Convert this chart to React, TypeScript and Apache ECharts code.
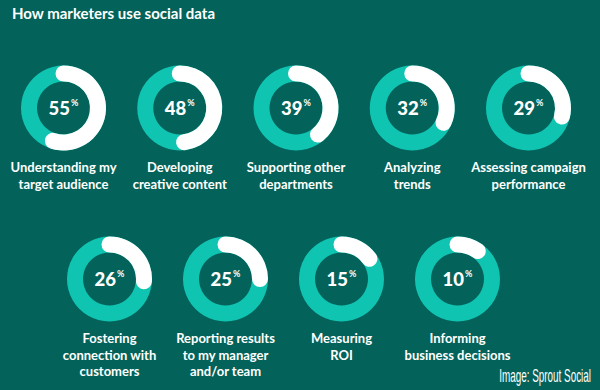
import React, { useEffect, useRef } from "react";
import * as echarts from "echarts";

const title = "How marketers use social data";
const categories = [
  "Understanding my\ntarget audience",
  "Developing\ncreative content",
  "Supporting other\ndepartments",
  "Analyzing\ntrends",
  "Assessing campaign\nperformance",
  "Fostering\nconnection with\ncustomers",
  "Reporting results\nto my manager\nand/or team",
  "Measuring\nROI",
  "Informing\nbusiness decisions",
];
const values = [55, 48, 39, 32, 29, 26, 25, 15, 10];
const credit = "Image: Sprout Social";

const BG = "#03635a";
const TEAL = "#10c4b2";
const WHITE = "#ffffff";

export default function App() {
  const ref = useRef<HTMLDivElement>(null);
  useEffect(() => {
    if (!ref.current) return;
    const chart = echarts.init(ref.current, null, { renderer: "svg" });
    const centers: [number, number][] = values.map((_, i) => {
      if (i < 5) return [63.5 + i * 116.25, 108];
      return [109.5 + (i - 5) * 116, 279];
    });
    const rIn = 26.5;
    const rOut = 42.5;
    const polar = centers.map((c) => ({ center: c, radius: [rIn, rOut] }));
    const angleAxis = centers.map((_, i) => ({
      polarIndex: i,
      type: "value",
      min: 0,
      max: 100,
      startAngle: 90,
      clockwise: true,
      show: false,
    }));
    const radiusAxis = centers.map((_, i) => ({
      polarIndex: i,
      type: "category",
      data: ["v"],
      show: false,
    }));
    const series: any[] = [];
    values.forEach((v, i) => {
      series.push({
        type: "pie",
        center: centers[i],
        radius: [rIn, rOut],
        silent: true,
        z: 1,
        data: [{ value: v, name: categories[i] }],
        itemStyle: { color: TEAL },
        labelLine: { show: false },
        label: {
          show: true,
          position: "center",
          formatter: (p: any) => `{n|${p.value}}{p|%}`,
          rich: {
            n: {
              fontFamily: "Lato",
              fontWeight: 900,
              fontSize: 18.5,
              color: WHITE,
              lineHeight: 20,
            },
            p: {
              fontFamily: "Lato",
              fontWeight: "bold",
              fontSize: 9,
              color: WHITE,
              lineHeight: 20,
              verticalAlign: "top",
              padding: [0, 0, 0, 1],
            },
          },
        },
      });
      series.push({
        type: "bar",
        coordinateSystem: "polar",
        polarIndex: i,
        data: [v],
        roundCap: true,
        barWidth: rOut - rIn,
        z: 3,
        itemStyle: { color: WHITE },
        silent: true,
      });
    });
    const graphics: any[] = [
      {
        type: "text",
        left: 12,
        top: 5,
        style: {
          text: title,
          fill: WHITE,
          font: "bold 15px Lato",
        },
      },
      {
        type: "text",
        x: 591,
        y: 376,
        scaleX: 0.55,
        style: {
          text: credit,
          fill: WHITE,
          font: "18px 'Liberation Sans', sans-serif",
          align: "right",
          verticalAlign: "middle",
        },
      },
    ];
    categories.forEach((c, i) => {
      const [cx, cy] = centers[i];
      graphics.push({
        type: "text",
        x: cx,
        y: cy + 51,
        style: {
          text: c,
          fill: WHITE,
          font: "bold 13px Lato",
          align: "center",
          verticalAlign: "top",
          lineHeight: 16.5,
        },
      });
    });
    chart.setOption({
      animation: false,
      backgroundColor: BG,
      polar,
      angleAxis,
      radiusAxis,
      series,
      graphic: graphics,
    });
    return () => chart.dispose();
  }, []);
  return (
    <div
      ref={ref}
      style={{ position: "absolute", left: 0, top: 0, width: 600, height: 390 }}
    />
  );
}
